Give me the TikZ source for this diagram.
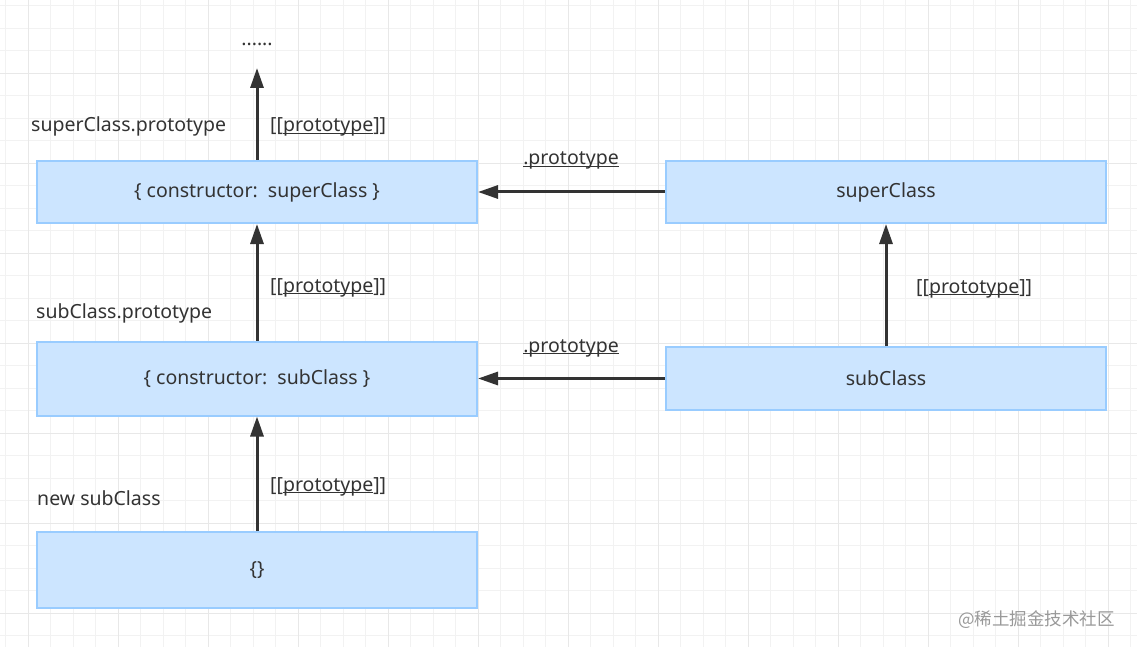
\documentclass[tikz,border=0pt]{standalone}
\usepackage{fontspec}
\setmainfont{Noto Sans}
\newfontfamily\cjkfont{Noto Sans CJK SC}
\usetikzlibrary{arrows.meta}
\definecolor{boxfill}{HTML}{CCE5FF}
\definecolor{boxdraw}{HTML}{99CCFF}
\definecolor{arr}{HTML}{333333}
\definecolor{gridminor}{HTML}{F2F2F2}
\definecolor{gridmajor}{HTML}{E8E8E8}
\newcommand\ulin[1]{\setbox0\hbox{#1}\rlap{\rule[-2.4pt]{\wd0}{1pt}}#1}
\tikzset{
  cls/.style={draw=boxdraw, fill=boxfill, line width=2pt, minimum width=440pt, inner sep=0pt, font=\fontsize{19.5}{22}\selectfont, text=arr},
  lab/.style={inner sep=0pt, font=\fontsize{19.5}{22}\selectfont, text=arr, anchor=base west},
  labc/.style={inner sep=0pt, font=\fontsize{19.5}{22}\selectfont, text=arr, anchor=base},
  link/.style={draw=arr, line width=3pt, -{Triangle[length=20pt,width=13pt]}, shorten >=0pt}
}
\begin{document}
\begin{tikzpicture}[x=1pt,y=-1pt]
\useasboundingbox (0,0) rectangle (1137,647);
\fill[white] (0,0) rectangle (1137,647);
% grid
\foreach \i in {0,...,51} {
  \pgfmathsetmacro\gx{5.8+22.5*\i}
  \draw[gridminor, line width=1pt] (\gx,0) -- (\gx,647);
}
\foreach \i in {0,...,29} {
  \pgfmathsetmacro\gy{5.8+22.5*\i}
  \draw[gridminor, line width=1pt] (0,\gy) -- (1137,\gy);
}
\foreach \i in {0,...,12} {
  \pgfmathsetmacro\gx{28.3+90*\i}
  \draw[gridmajor, line width=1.3pt] (\gx,0) -- (\gx,647);
}
\foreach \i in {0,...,7} {
  \pgfmathsetmacro\gy{73.3+90*\i}
  \draw[gridmajor, line width=1.3pt] (0,\gy) -- (1137,\gy);
}

% boxes
\node[cls, minimum height=62pt] (supP) at (257,192) {\raisebox{-1.5pt}{\{ constructor:\ \ superClass \}}};
\node[cls, minimum height=62pt] (sup) at (886,192) {\raisebox{-1.5pt}{superClass}};
\node[cls, minimum height=74pt] (subP) at (257,378.5) {\raisebox{-1.5pt}{\{ constructor:\ \ subClass \}}};
\node[cls, minimum height=63pt] (sub) at (886,378.5) {\raisebox{-1.5pt}{subClass}};
\node[cls, minimum height=76pt] (obj) at (257,570) {\bfseries\{\}};

\coordinate (top) at (257,68);

% connectors
\draw[link] (supP.north) -- (top);
\draw[link] (subP.north) -- (supP.south);
\draw[link] (obj.north) -- (subP.south);
\draw[link] (sub.north) -- (sup.south);
\draw[link] (sup.west) -- (supP.east);
\draw[link] (sub.west) -- (subP.east);

% labels
\node[labc] (dots) at (257,46) {......};
\node[lab] (l1) at (31,132) {superClass.prototype};
\node[lab] (p1) at (270,132) {[[\ulin{prototype}]]};
\node[labc] (d1) at (571,165) {\ulin{.prototype}};
\node[lab] (l2) at (36,318) {subClass.prototype};
\node[lab] (p2) at (270,292) {[[\ulin{prototype}]]};
\node[labc] (d2) at (571,352) {\ulin{.prototype}};
\node[lab] (p3) at (916,293) {[[\ulin{prototype}]]};
\node[lab] (l3) at (37,505) {new subClass};
\node[lab] (p4) at (270,491) {[[\ulin{prototype}]]};
\node[lab, text=black!40] (wm) at (958,625) {\cjkfont\fontsize{17.5}{20}\selectfont @稀土掘金技术社区};
\end{tikzpicture}
\end{document}
